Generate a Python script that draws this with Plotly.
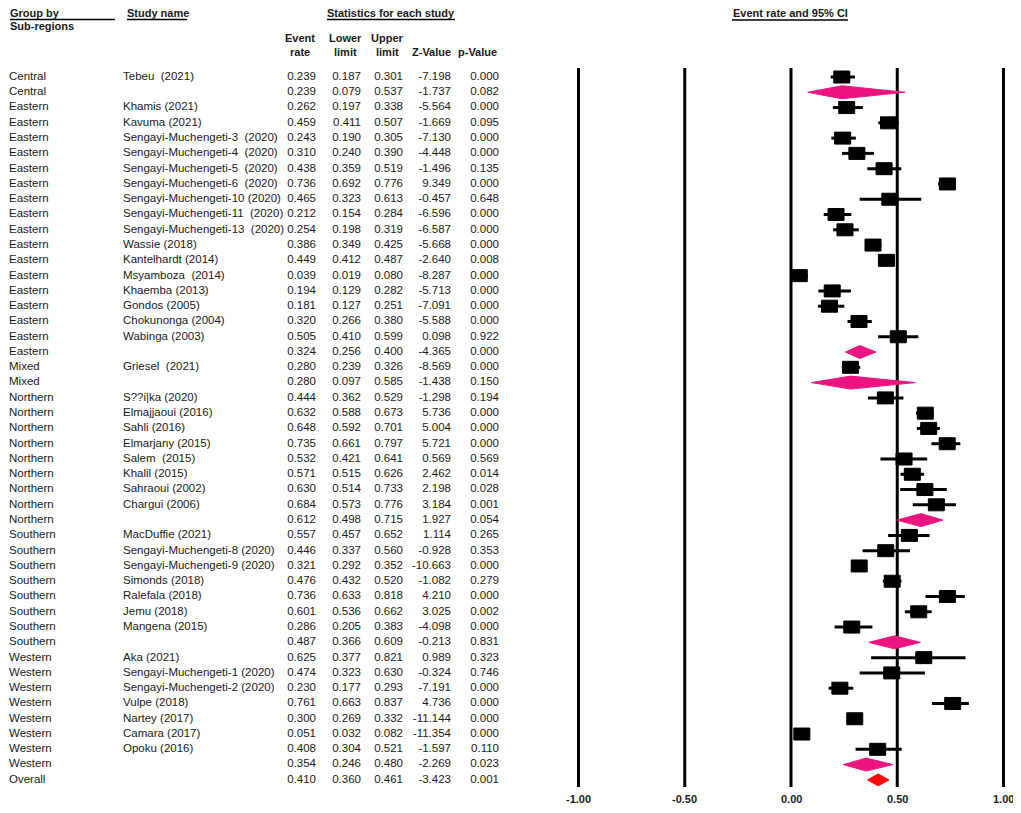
import plotly.graph_objects as go

W, H = 1021, 813
OFF = 8  # page body margin around the figure

# page geometry (pixels) - forest axis: 0 at x=791, 0.5 per 106 px
X0, SCALE = 791, 212.5
Y0, ROW = 77, 15.28

groups = ["Central", "Central",
          "Eastern", "Eastern", "Eastern", "Eastern", "Eastern", "Eastern", "Eastern",
          "Eastern", "Eastern", "Eastern", "Eastern", "Eastern", "Eastern", "Eastern",
          "Eastern", "Eastern", "Eastern",
          "Mixed", "Mixed",
          "Northern", "Northern", "Northern", "Northern", "Northern", "Northern",
          "Northern", "Northern", "Northern",
          "Southern", "Southern", "Southern", "Southern", "Southern", "Southern",
          "Southern", "Southern",
          "Western", "Western", "Western", "Western", "Western", "Western",
          "Western", "Western",
          "Overall"]

studies = ["Tebeu  (2021)", "",
           "Khamis (2021)", "Kavuma (2021)", "Sengayi-Muchengeti-3  (2020)",
           "Sengayi-Muchengeti-4  (2020)", "Sengayi-Muchengeti-5  (2020)",
           "Sengayi-Muchengeti-6  (2020)", "Sengayi-Muchengeti-10 (2020)",
           "Sengayi-Muchengeti-11  (2020)", "Sengayi-Muchengeti-13  (2020)",
           "Wassie (2018)", "Kantelhardt (2014)", "Msyamboza  (2014)",
           "Khaemba (2013)", "Gondos (2005)", "Chokunonga (2004)", "Wabinga (2003)", "",
           "Griesel  (2021)", "",
           "S??i|ka (2020)", "Elmajjaoui (2016)", "Sahli (2016)", "Elmarjany (2015)",
           "Salem  (2015)", "Khalil (2015)", "Sahraoui (2002)", "Chargui (2006)", "",
           "MacDuffie (2021)", "Sengayi-Muchengeti-8 (2020)",
           "Sengayi-Muchengeti-9 (2020)", "Simonds (2018)", "Ralefala (2018)",
           "Jemu (2018)", "Mangena (2015)", "",
           "Aka (2021)", "Sengayi-Muchengeti-1 (2020)", "Sengayi-Muchengeti-2 (2020)",
           "Vulpe (2018)", "Nartey (2017)", "Camara (2017)", "Opoku (2016)", "",
           ""]

event_rate = [0.239, 0.239,
              0.262, 0.459, 0.243, 0.310, 0.438, 0.736, 0.465, 0.212, 0.254,
              0.386, 0.449, 0.039, 0.194, 0.181, 0.320, 0.505, 0.324,
              0.280, 0.280,
              0.444, 0.632, 0.648, 0.735, 0.532, 0.571, 0.630, 0.684, 0.612,
              0.557, 0.446, 0.321, 0.476, 0.736, 0.601, 0.286, 0.487,
              0.625, 0.474, 0.230, 0.761, 0.300, 0.051, 0.408, 0.354,
              0.410]

lower_limit = [0.187, 0.079,
               0.197, 0.411, 0.190, 0.240, 0.359, 0.692, 0.323, 0.154, 0.198,
               0.349, 0.412, 0.019, 0.129, 0.127, 0.266, 0.410, 0.256,
               0.239, 0.097,
               0.362, 0.588, 0.592, 0.661, 0.421, 0.515, 0.514, 0.573, 0.498,
               0.457, 0.337, 0.292, 0.432, 0.633, 0.536, 0.205, 0.366,
               0.377, 0.323, 0.177, 0.663, 0.269, 0.032, 0.304, 0.246,
               0.360]

upper_limit = [0.301, 0.537,
               0.338, 0.507, 0.305, 0.390, 0.519, 0.776, 0.613, 0.284, 0.319,
               0.425, 0.487, 0.080, 0.282, 0.251, 0.380, 0.599, 0.400,
               0.326, 0.585,
               0.529, 0.673, 0.701, 0.797, 0.641, 0.626, 0.733, 0.776, 0.715,
               0.652, 0.560, 0.352, 0.520, 0.818, 0.662, 0.383, 0.609,
               0.821, 0.630, 0.293, 0.837, 0.332, 0.082, 0.521, 0.480,
               0.461]

z_value = [-7.198, -1.737,
           -5.564, -1.669, -7.130, -4.448, -1.496, 9.349, -0.457, -6.596, -6.587,
           -5.668, -2.640, -8.287, -5.713, -7.091, -5.588, 0.098, -4.365,
           -8.569, -1.438,
           -1.298, 5.736, 5.004, 5.721, 0.569, 2.462, 2.198, 3.184, 1.927,
           1.114, -0.928, -10.663, -1.082, 4.210, 3.025, -4.098, -0.213,
           0.989, -0.324, -7.191, 4.736, -11.144, -11.354, -1.597, -2.269,
           -3.423]

p_value = [0.000, 0.082,
           0.000, 0.095, 0.000, 0.000, 0.135, 0.000, 0.648, 0.000, 0.000,
           0.000, 0.008, 0.000, 0.000, 0.000, 0.000, 0.922, 0.000,
           0.000, 0.150,
           0.194, 0.000, 0.000, 0.000, 0.569, 0.014, 0.028, 0.001, 0.054,
           0.265, 0.353, 0.000, 0.279, 0.000, 0.002, 0.000, 0.831,
           0.323, 0.746, 0.000, 0.000, 0.000, 0.000, 0.110, 0.023,
           0.001]

axis_ticks = [-1.0, -0.5, 0.0, 0.5, 1.0]
tick_labels = ["-1.00", "-0.50", "0.00", "0.50", "1.00"]

FONT = "Arial, Liberation Sans, sans-serif"
TXT = "#1a1a1a"
PINK = "#ec1580"
RED = "#ff0a0a"


def px_x(px):
    return (px - X0) / SCALE


def px_y(py):
    return (py - Y0) / ROW


rows = list(range(len(groups)))
is_summary = [s == "" for s in studies]

fig = go.Figure()

# CI lines and boxes for the single studies
ci_x, ci_y, box_x, box_y = [], [], [], []
bw, bh = 8.0 / SCALE, 6.0 / ROW
for i in rows:
    if is_summary[i]:
        continue
    ci_x += [lower_limit[i], upper_limit[i], None]
    ci_y += [i, i, None]
    e = event_rate[i]
    box_x += [e - bw, e + bw, e + bw, e - bw, e - bw, None]
    box_y += [i - bh, i - bh, i + bh, i + bh, i - bh, None]

fig.add_trace(go.Scatter(x=ci_x, y=ci_y, mode="lines",
                         line=dict(color="black", width=3), hoverinfo="skip"))
fig.add_trace(go.Scatter(x=box_x, y=box_y, mode="lines", fill="toself",
                         fillcolor="black", line=dict(color="black", width=1),
                         hoverinfo="skip"))

# diamonds for subgroup / overall summaries
for i in rows:
    if not is_summary[i]:
        continue
    col = RED if groups[i] == "Overall" else PINK
    dh = 6.0 / ROW if groups[i] == "Overall" else 6.5 / ROW
    fig.add_trace(go.Scatter(
        x=[lower_limit[i], event_rate[i], upper_limit[i], event_rate[i], lower_limit[i]],
        y=[i, i - dh, i, i + dh, i],
        mode="lines", fill="toself", fillcolor=col,
        line=dict(color=col, width=1), hoverinfo="skip"))

# table columns as text traces
def text_col(px, values, pos):
    fig.add_trace(go.Scatter(
        x=[px_x(px)] * len(values), y=rows, mode="text", text=values,
        textposition=pos, textfont=dict(family=FONT, size=11.5, color=TXT),
        hoverinfo="skip"))

text_col(9, groups, "middle right")
text_col(123, studies, "middle right")
text_col(316, [f"{v:.3f}" for v in event_rate], "middle left")
text_col(361, [f"{v:.3f}" for v in lower_limit], "middle left")
text_col(403, [f"{v:.3f}" for v in upper_limit], "middle left")
text_col(451, [f"{v:.3f}" for v in z_value], "middle left")
text_col(499, [f"{v:.3f}" for v in p_value], "middle left")

# vertical reference lines of the forest plot
shapes = []
for t in axis_ticks:
    shapes.append(dict(type="line", xref="x", yref="y", x0=t, x1=t,
                       y0=px_y(68), y1=px_y(787), layer="below",
                       line=dict(color="black", width=3)))

# header underlines
for a, b, py in [(10, 115, 19.5), (127, 187, 19.5), (327, 455, 19.5), (732, 848, 20)]:
    shapes.append(dict(type="line", xref="x", yref="y", x0=px_x(a), x1=px_x(b),
                       y0=px_y(py), y1=px_y(py), line=dict(color="black", width=1.3)))

annotations = []


def head(px, py, text, anchor="center"):
    annotations.append(dict(x=px_x(px), y=px_y(py), xref="x", yref="y",
                            text=f"<b>{text}</b>", showarrow=False, xanchor=anchor,
                            yanchor="middle", borderpad=0,
                            font=dict(family=FONT, size=11, color=TXT)))


head(9, 13, "Group by", "left")
head(9, 26, "Sub-regions", "left")
head(126, 13, "Study name", "left")
head(391, 13, "Statistics for each study")
head(300, 38, "Event")
head(300, 52, "rate")
head(345, 38, "Lower")
head(345, 52, "limit")
head(387, 38, "Upper")
head(387, 52, "limit")
head(431, 52, "Z-Value")
head(477, 52, "p-Value")
head(790, 13, "Event rate and 95% CI")

for t, lab in zip(axis_ticks, tick_labels):
    annotations.append(dict(x=t, y=px_y(799), xref="x", yref="y", text=f"<b>{lab}</b>",
                            showarrow=False, xanchor="center", yanchor="middle",
                            font=dict(family=FONT, size=11, color=TXT)))

fig.update_layout(
    width=W - OFF, height=H - OFF,
    margin=dict(l=0, r=0, t=0, b=0),
    plot_bgcolor="white", paper_bgcolor="white",
    showlegend=False,
    xaxis=dict(range=[px_x(OFF), px_x(W)], visible=False, fixedrange=True),
    yaxis=dict(range=[px_y(H), px_y(OFF)], visible=False, fixedrange=True),
    shapes=shapes,
    annotations=annotations,
)

fig.write_html("out.html")
